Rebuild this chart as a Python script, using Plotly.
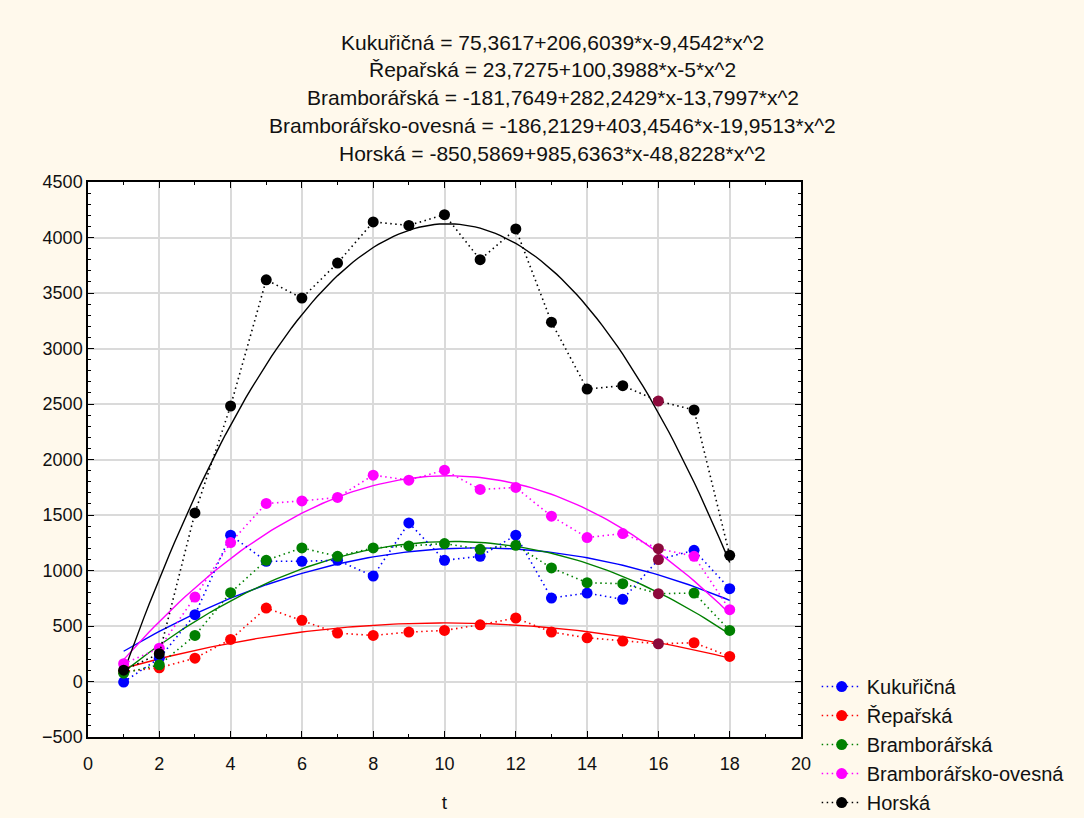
import numpy as np
import plotly.graph_objects as go

t = list(range(1, 19))

names = ["Kukuřičná", "Řepařská", "Bramborářská", "Bramborářsko-ovesná", "Horská"]
colors = ["#0000FF", "#FF0000", "#008000", "#FF00FF", "#000000"]

kukuricna = [-5, 210, 602, 1318, 1083, 1083, 1092, 950, 1429, 1092, 1128, 1318, 752, 797, 740, 1098, 1182, 836]
reparska = [90, 124, 210, 379, 662, 551, 436, 415, 445, 460, 511, 572, 445, 394, 364, 340, 349, 226]
bramborarska = [75, 150, 415, 800, 1092, 1203, 1128, 1203, 1221, 1243, 1191, 1227, 1023, 890, 881, 791, 797, 460]
bramb_ovesna = [160, 300, 761, 1252, 1604, 1627, 1658, 1859, 1814, 1904, 1730, 1748, 1489, 1297, 1333, 1197, 1128, 647]
horska = [102, 250, 1519, 2482, 3619, 3454, 3770, 4140, 4109, 4206, 3800, 4077, 3237, 2635, 2665, 2527, 2446, 1137]
series = [kukuricna, reparska, bramborarska, bramb_ovesna, horska]

# regression coefficients as printed in the chart header (b0, b1, b2)
coef_b0 = [75.3617, 23.7275, -181.7649, -186.2129, -850.5869]
coef_b1 = [206.6039, 100.3988, 282.2429, 403.4546, 985.6363]
coef_b2 = [-9.4542, -5.0, -13.7997, -19.9513, -48.8228]

title_lines = [
    "Kukuřičná = 75,3617+206,6039*x-9,4542*x^2",
    "Řepařská = 23,7275+100,3988*x-5*x^2",
    "Bramborářská = -181,7649+282,2429*x-13,7997*x^2",
    "Bramborářsko-ovesná = -186,2129+403,4546*x-19,9513*x^2",
    "Horská = -850,5869+985,6363*x-48,8228*x^2",
]

highlight_t = 16
highlight_color = "#8C0A3C"

FONT = "Liberation Sans, Arial, sans-serif"
TXT = "#111111"
fig = go.Figure()

xs = np.linspace(min(t), max(t), 120)
for i in range(len(names)):
    ys = coef_b0[i] + coef_b1[i] * xs + coef_b2[i] * xs ** 2
    fig.add_trace(go.Scatter(x=xs, y=ys, mode="lines", line=dict(color=colors[i], width=1.4),
                             showlegend=False, hoverinfo="skip"))

for i in range(len(names)):
    mcols = [highlight_color if tt == highlight_t else colors[i] for tt in t]
    fig.add_trace(go.Scatter(x=t, y=series[i], mode="lines+markers", name=names[i],
                             line=dict(color=colors[i], width=1.6, dash="1.5px,3.5px"),
                             marker=dict(color=mcols, size=11, symbol="circle",
                                         line=dict(width=0))))

title_y = [1.252, 1.203, 1.153, 1.102, 1.052]
for k, txt in enumerate(title_lines):
    fig.add_annotation(x=0.652, xref="paper", y=title_y[k], yref="paper",
                       text=txt, showarrow=False, xanchor="center", yanchor="middle",
                       font=dict(family=FONT, size=21, color=TXT))

axis_common = dict(showline=True, linecolor="black", linewidth=1.5, mirror="allticks",
                   ticks="inside", ticklen=6, tickcolor="black", showgrid=True,
                   gridcolor="#DADADA", gridwidth=1.5, zeroline=False,
                   tickfont=dict(family=FONT, size=18, color=TXT))

fig.update_xaxes(range=[0, 20], dtick=2, tick0=0, ticklabelstandoff=10,
                 title=dict(text="t", font=dict(family=FONT, size=19, color=TXT), standoff=22),
                 minor=dict(ticks="inside", ticklen=3, dtick=1, tickcolor="black", showgrid=False),
                 **axis_common)
fig.update_yaxes(range=[-500, 4500], dtick=500, tick0=0,
                 minor=dict(ticks="inside", ticklen=3, dtick=100, tickcolor="black", showgrid=False),
                 **axis_common)

fig.update_layout(
    width=1084, height=818,
    margin=dict(l=88, r=283, t=182, b=81, autoexpand=False),
    paper_bgcolor="#FFF9EC",
    plot_bgcolor="#FFFFFF",
    font=dict(family=FONT, color=TXT),
    legend=dict(x=1.022, y=0.126, xanchor="left", yanchor="top", bgcolor="rgba(0,0,0,0)",
                font=dict(family=FONT, size=20, color=TXT), tracegroupgap=0,
                itemwidth=40),
)

fig.write_html("out.html", config={"displayModeBar": False},
               post_script="document.body.style.margin='0';document.body.style.overflow='hidden';")
